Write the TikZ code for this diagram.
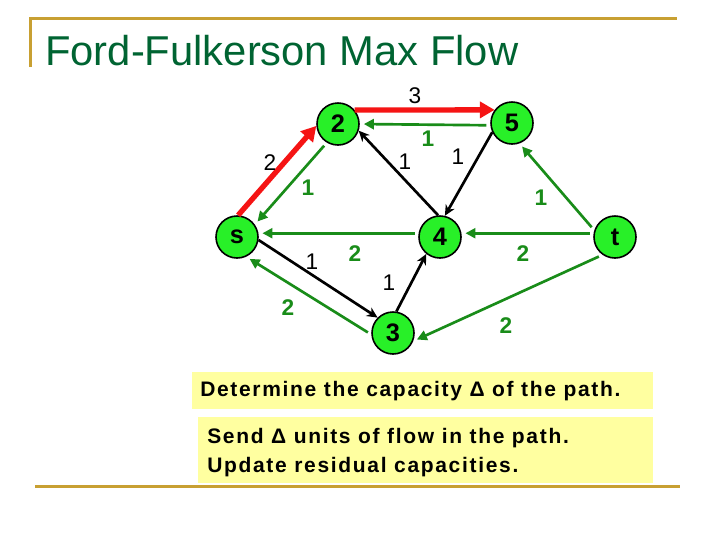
\documentclass[tikz,border=0pt]{standalone}
\usepackage{fontspec}
\setmainfont{Liberation Sans}
\newfontfamily\spacedfont[LetterSpace=8]{Liberation Sans}
\usetikzlibrary{arrows.meta}
\definecolor{ffgreen}{RGB}{40,240,40}
\definecolor{ffdark}{RGB}{25,140,25}
\definecolor{ffred}{RGB}{245,20,20}
\definecolor{ffgold}{RGB}{200,160,50}
\definecolor{fftitle}{RGB}{0,100,50}
\definecolor{ffyellow}{RGB}{255,255,160}

\begin{document}
\begin{tikzpicture}[x=0.75pt, y=-0.75pt,
  vertex/.style={circle, draw=black, line width=1.2pt, fill=ffgreen, minimum size=31.5pt,
    inner sep=0pt, font=\fontsize{19}{19}\selectfont\bfseries},
  caplabel/.style={inner sep=0pt, font=\fontsize{17}{17}\selectfont},
  reslabel/.style={inner sep=0pt, ffdark, font=\fontsize{17}{17}\selectfont\bfseries},
  pathedge/.style={ffred, line width=4pt, -{Triangle[length=11pt, width=12pt]}},
  flowedge/.style={black, line width=2pt, -{Stealth[length=8pt, width=7.5pt]}},
  backedge/.style={ffdark, line width=2pt, -{Triangle[length=7.5pt, width=7.5pt]},
    shorten <=3pt, shorten >=3pt},
  note/.style={inner sep=0pt, anchor=base west,
    font=\spacedfont\fontsize{15.75}{18}\selectfont\bfseries}]
  \useasboundingbox (0,0) rectangle (720,540);

  % Frame lines
  \draw[ffgold, line width=2.25pt] (30,67) -- (30,18) -- (677,18);
  \draw[ffgold, line width=2.25pt] (35,486) -- (680,486);

  % Title
  \node[anchor=base west, inner sep=0pt, fftitle, font=\fontsize{31.3}{31.3}\selectfont]
    (title) at (45,65) {Ford-Fulkerson Max Flow};

  % Vertices
  \node[vertex] (s) at (237,237) {s};
  \node[vertex] (n2) at (338,124) {2};
  \node[vertex] (n5) at (512,123) {5};
  \node[vertex] (n4) at (440,237) {4};
  \node[vertex] (t) at (615,237) {t};
  \node[vertex] (n3) at (393,333) {3};

  % Augmenting path
  \draw[pathedge] (s.87) -- (n2.185);
  \draw[pathedge] (n2.40) -- (n5.143);

  % Remaining capacities
  \draw[flowedge] (n4.95) -- (n2.342);
  \draw[flowedge] (n5.205) -- (n4.77);
  \draw[flowedge] (s.352) -- (n3.135);
  \draw[flowedge] (n3.81) -- (n4.231);

  % Residual (backward) edges
  \draw[backedge] (n2.239) -- (s.35);
  \draw[backedge] (n5.186) -- (n2.0);
  \draw[backedge] (t.162) -- (n5.290);
  \draw[backedge] (t.170) -- (n4.10);
  \draw[backedge] (n4.170) -- (s.10);
  \draw[backedge] (n3.184) -- (s.295);
  \draw[backedge] (t.235) -- (n3.338);

  % Edge labels
  \node[caplabel] (c25) at (415,96) {3};
  \node[reslabel] (r52) at (428,139) {1};
  \node[caplabel] (cs2) at (270,163) {2};
  \node[reslabel] (r2s) at (308,188) {1};
  \node[caplabel] (c42) at (405,162) {1};
  \node[caplabel] (c54) at (458,157) {1};
  \node[reslabel] (rt5) at (541,198) {1};
  \node[reslabel] (r4s) at (355,254) {2};
  \node[reslabel] (rt4) at (523,254) {2};
  \node[caplabel] (cs3) at (312,262) {1};
  \node[caplabel] (c34) at (389,283) {1};
  \node[reslabel] (r3s) at (288,308) {2};
  \node[reslabel] (rt3) at (506,326) {2};

  % Notes
  \fill[ffyellow] (192,372) rectangle (653,409);
  \node[note] (det) at (200,396) {Determine the capacity Δ of the path.};
  \fill[ffyellow] (198,417) rectangle (653,483);
  \node[note] (send) at (207,443) {Send Δ units of flow in the path.};
  \node[note] (upd) at (207,472) {Update residual capacities.};
\end{tikzpicture}
\end{document}
